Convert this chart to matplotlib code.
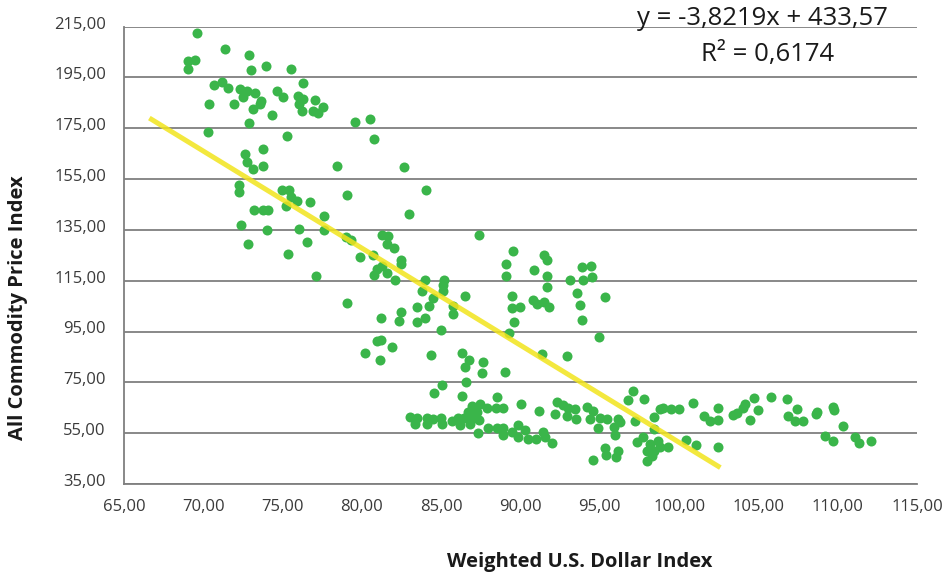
import numpy as np
import matplotlib
matplotlib.use("Agg")
import matplotlib.pyplot as plt
import matplotlib.transforms as mtransforms
from matplotlib.ticker import FuncFormatter

# Weighted U.S. dollar index (x) vs all commodity price index (y)
dollar_index = [
    69.6, 71.35, 72.86, 73.95, 75.51, 69.06, 69.5, 69.04, 72.99, 76.27,
    70.67, 71.16, 71.58, 72.31, 72.74, 73.26, 72.52, 73.64, 73.57, 73.15,
    71.94, 70.38, 74.31, 72.9, 70.3, 74.63, 75.05, 75.99, 76.31, 76.05,
    76.2, 76.93, 77.04, 77.53, 77.25, 79.54, 80.5, 75.26, 73.74, 72.63,
    72.78, 73.15, 73.78, 78.45, 79.04, 72.27, 72.27, 74.94, 75.42, 75.51,
    75.93, 76.73, 75.2, 73.2, 73.75, 74.05, 77.61, 72.38, 74.04, 76.03,
    77.61, 79.0, 79.29, 72.8, 76.52, 75.32, 79.9, 77.13,
    80.78, 82.65, 84.04, 82.95, 87.4, 81.25, 81.67, 81.6, 82.02, 80.72,
    82.45, 82.45, 81.29, 80.97, 81.56, 80.78, 82.1, 79.04, 81.2, 82.45,
    82.32, 80.97, 81.2, 80.2, 81.14, 81.9, 84.0, 83.77, 84.46, 84.21,
    83.45, 85.2, 85.09, 85.09, 86.52, 85.76, 85.76, 83.45, 84.0, 85.0,
    84.34, 86.31, 86.77, 86.52, 87.62, 87.56, 86.56, 85.03, 84.55, 86.31,
    88.54, 89.04, 89.07, 89.07, 89.55, 89.49, 89.45, 89.97, 89.59, 89.25,
    90.85, 91.5, 91.67, 91.67, 91.67, 90.81, 91.06, 91.5, 91.8, 91.34,
    93.12, 93.54, 93.73, 93.88, 93.9, 94.43, 93.92, 94.53, 95.35, 94.97,
    92.91,
    90.0, 91.19, 92.3, 92.18, 86.92, 87.45, 87.87, 88.46, 88.92, 86.71,
    87.28, 87.03, 86.44, 86.08, 83.03, 83.45, 83.35, 84.08, 84.12, 84.5,
    84.97, 85.03, 85.66, 86.18, 86.81, 87.4, 87.34, 87.97, 88.5, 88.92,
    88.92, 89.45, 89.86, 89.86, 90.28, 90.49, 90.98, 91.44, 91.55, 91.97,
    97.08, 96.76, 97.81, 100.9, 92.7, 93.01, 93.44, 92.95, 93.5, 94.17,
    94.59, 94.38, 95.01, 95.44, 94.9, 96.17, 96.27, 95.9, 95.96, 97.22,
    98.42, 98.42, 98.8, 99.0, 99.47, 100.0, 101.57, 101.95, 102.47, 102.47,
    95.33, 95.39, 94.59, 96.17, 96.02, 97.33, 97.74, 98.17, 97.96, 98.27,
    97.99, 98.7, 98.8, 99.32, 98.42, 100.44, 101.05, 102.47,
    103.38, 103.63, 104.05, 104.16, 104.72, 104.99, 104.47, 105.79, 106.78, 107.45,
    106.88, 107.3, 107.79, 108.63, 108.71, 109.68, 109.77, 110.31, 109.18, 109.72,
    111.09, 111.34, 112.1,
]

commodity_index = [
    212.7, 206.3, 204.0, 199.6, 198.3, 201.3, 202.0, 198.3, 198.1, 192.9,
    192.1, 193.1, 191.0, 190.6, 189.6, 188.7, 187.4, 185.7, 184.4, 182.7,
    184.5, 184.5, 180.1, 176.9, 173.5, 189.6, 187.4, 187.9, 186.6, 184.4,
    181.7, 181.7, 186.0, 183.5, 181.1, 177.4, 178.8, 172.1, 167.0, 164.8,
    161.8, 158.9, 160.2, 160.0, 148.8, 152.7, 150.1, 150.8, 150.8, 147.9,
    146.4, 145.9, 144.3, 142.9, 142.9, 142.9, 140.4, 136.9, 135.1, 135.3,
    135.1, 132.2, 131.2, 129.6, 130.4, 125.6, 124.4, 117.0,
    170.7, 159.7, 150.6, 141.4, 133.1, 133.1, 132.8, 129.6, 128.0, 125.3,
    123.3, 121.4, 120.9, 119.5, 118.2, 117.2, 115.1, 106.2, 100.2, 102.6,
    99.2, 91.1, 91.8, 86.6, 83.7, 88.8, 115.4, 111.1, 108.1, 105.1,
    104.6, 115.2, 113.3, 111.1, 108.9, 105.1, 101.9, 98.7, 100.2, 95.6,
    85.8, 86.7, 83.7, 81.2, 83.0, 78.6, 75.1, 74.0, 71.0, 69.5,
    69.2, 79.1, 121.5, 117.0, 126.9, 108.9, 104.2, 104.6, 98.6, 94.4,
    119.3, 125.0, 123.1, 117.0, 112.7, 107.6, 105.9, 106.8, 104.7, 86.0,
    115.2, 110.3, 105.6, 99.6, 120.5, 120.7, 115.2, 116.4, 108.6, 92.9,
    85.5,
    66.3, 63.6, 67.2, 62.7, 65.7, 66.3, 65.0, 65.0, 65.0, 63.5,
    63.5, 61.1, 61.1, 60.9, 61.5, 61.1, 58.8, 61.1, 58.8, 60.5,
    61.1, 58.5, 59.6, 58.3, 58.8, 60.1, 54.9, 56.9, 56.9, 56.9,
    54.4, 55.3, 58.3, 53.6, 56.2, 52.6, 52.6, 55.3, 53.6, 51.3,
    71.6, 67.9, 68.6, 66.7, 65.9, 65.0, 64.4, 61.8, 60.7, 65.4,
    63.7, 60.5, 61.1, 60.5, 57.2, 60.5, 59.2, 57.5, 54.2, 59.8,
    61.5, 56.6, 64.4, 64.8, 64.4, 64.6, 61.8, 59.6, 65.0, 60.1,
    49.1, 46.6, 44.3, 48.1, 45.8, 51.7, 53.3, 50.7, 48.1, 46.1,
    44.2, 52.0, 49.4, 49.4, 48.1, 52.2, 50.3, 49.4,
    62.2, 63.1, 65.0, 66.3, 68.9, 64.0, 60.2, 69.2, 68.3, 64.6,
    61.8, 59.9, 59.6, 62.4, 63.5, 65.4, 64.3, 57.9, 53.9, 52.0,
    53.6, 51.3, 52.0,
]

x_ticks = [65, 70, 75, 80, 85, 90, 95, 100, 105, 110, 115]
y_ticks = [35, 55, 75, 95, 115, 135, 155, 175, 195, 215]

# linear trend line
slope = -3.8219
intercept = 433.57
r_squared = 0.6174
trend_x = np.array([66.6, 102.6])


def comma_decimal(v, pos=None):
    return f"{v:.2f}".replace(".", ",")


plt.rcParams["font.family"] = ["Open Sans", "DejaVu Sans"]

fig = plt.figure(figsize=(9.45, 5.75), dpi=100)
ax = fig.add_axes([0.1312, 0.1583, 0.8392, 0.7953])

ax.scatter(dollar_index, commodity_index, s=52, color="#3ab54a",
           linewidths=0, zorder=3)
ax.plot(trend_x, slope * trend_x + intercept, color="#f2e41c", lw=3.6,
        alpha=0.85, solid_capstyle="butt", zorder=4)

ax.set_xlim(65, 115)
ax.set_ylim(35, 215)
ax.set_xticks(x_ticks)
ax.set_yticks(y_ticks)
ax.xaxis.set_major_formatter(FuncFormatter(comma_decimal))
ax.yaxis.set_major_formatter(FuncFormatter(comma_decimal))

ax.yaxis.grid(True, color="#7f7f7f", lw=1.3)
ax.set_axisbelow(True)
for side in ["top", "right"]:
    ax.spines[side].set_visible(False)
for side in ["left", "bottom"]:
    ax.spines[side].set_color("#7f7f7f")
    ax.spines[side].set_linewidth(1.3)

ax.tick_params(axis="both", length=0, labelsize=12, colors="#3a3a3a")
ax.tick_params(axis="y", pad=13)
ax.tick_params(axis="x", pad=11)

# y labels sit slightly above their gridlines
shift = mtransforms.ScaledTranslation(0, 3 / 72, fig.dpi_scale_trans)
for lbl in ax.get_yticklabels():
    lbl.set_transform(lbl.get_transform() + shift)

fig.text(580 / 945, 1 - 562 / 575, "Weighted U.S. Dollar Index",
         ha="center", va="center", fontsize=14.5, fontweight="bold",
         color="#1a1a1a")
fig.text(18 / 945, 1 - 308 / 575, "All Commodity Price Index",
         ha="center", va="center", rotation=90, fontsize=14.5,
         fontweight="bold", color="#1a1a1a")

eq = f"y = {slope:.4f}x + {intercept:.2f}".replace(".", ",")
fig.text(762 / 945, 1 - 25 / 575, eq, ha="center", va="baseline",
         fontsize=18.5, color="#1a1a1a")
fig.text(768 / 945, 1 - 61 / 575, f"R² = {r_squared:.4f}".replace(".", ","),
         ha="center", va="baseline", fontsize=18.5, color="#1a1a1a")

fig.savefig("out.png", dpi=100)
